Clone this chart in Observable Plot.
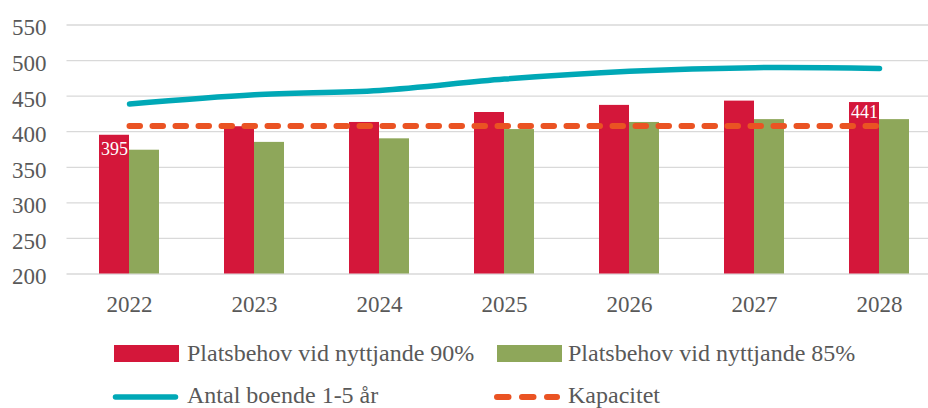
<!DOCTYPE html>
<html>
<head>
<meta charset="utf-8">
<script src="https://cdn.jsdelivr.net/npm/d3@7"></script>
<script src="https://cdn.jsdelivr.net/npm/@observablehq/plot@0.6"></script>
<style>
  body { margin: 0; background: #fff; }
  #chart svg { display: block; font-family: "Liberation Serif", "Times New Roman", Times, serif !important; }
  #chart svg text { font-family: "Liberation Serif", "Times New Roman", Times, serif !important; }
</style>
</head>
<body>
<div id="chart"></div>
<script>
// ---- data ----
const years = ["2022", "2023", "2024", "2025", "2026", "2027", "2028"];
const behov90 = [395, 407, 413, 427, 437, 443, 441];
const behov85 = [374, 385, 390, 403, 413, 417, 417];
const boende = [439, 452, 458, 474, 485, 490, 489];
const kapacitet = [408, 408, 408, 408, 408, 408, 408];
const yTicks = [200, 250, 300, 350, 400, 450, 500, 550];
const seriesNames = ["Platsbehov vid nyttjande 90%", "Platsbehov vid nyttjande 85%", "Antal boende 1-5 år", "Kapacitet"];
const labelFirst = "2022";
const labelLast = "2028";

const colors = { red: "#d4173a", green: "#8ea75a", teal: "#00a8b6", orange: "#ea5323", text: "#595959", grid: "#d9d9d9" };
const font = '"Liberation Serif", "Times New Roman", Times, serif';

const rows = years.map((y, i) => ({ year: y, v90: behov90[i], v85: behov85[i], boende: boende[i], kap: kapacitet[i] }));
const base = yTicks[0];

const plot = Plot.plot({
  width: 928,
  height: 330,
  marginLeft: 66.5,
  marginRight: -13.5,
  marginTop: 24.5,
  marginBottom: 56.5,
  style: `font-family: ${font}; background: white;`,
  x: { domain: years, paddingInner: 0.52, paddingOuter: 0.26 },
  y: { domain: [yTicks[0], yTicks[yTicks.length - 1]] },
  marks: [
    Plot.ruleY(yTicks, { stroke: colors.grid, strokeWidth: 1.3 }),
    Plot.barY(rows, { x: "year", y1: base, y2: "v90", fill: colors.red, insetRight: 30 }),
    Plot.barY(rows, { x: "year", y1: base, y2: "v85", fill: colors.green, insetLeft: 30 }),
    Plot.line(rows, { x: "year", y: "kap", stroke: colors.orange, strokeWidth: 6, strokeDasharray: "10.5,12.5", strokeLinecap: "round" }),
    Plot.line(rows, { x: "year", y: "boende", stroke: colors.teal, strokeWidth: 5.5, curve: "catmull-rom", strokeLinecap: "round" }),
    Plot.text(rows.filter(d => d.year === labelFirst), { x: "year", y: "v90", text: d => String(d.v90), dx: -15, dy: 14, fill: "white", fontSize: 18 }),
    Plot.text(rows.filter(d => d.year === labelLast), { x: "year", y: "v90", text: d => String(d.v90), dx: -15, dy: 9.5, fill: "white", fontSize: 18 }),
    Plot.axisY(yTicks, { tickSize: 0, tickPadding: 20.5, fontSize: 23, color: colors.text, dy: 3, label: null }),
    Plot.axisX({ tickSize: 0, tickPadding: 22, fontSize: 23, color: colors.text, label: null })
  ]
});
document.getElementById("chart").appendChild(plot);

// ---- legend below the plot ----
const leg = d3.create("svg")
  .attr("width", 928).attr("height", 78)
  .attr("font-family", font);

const items = [
  { kind: "rect", color: colors.red, x: 114, row: 0, label: seriesNames[0] },
  { kind: "rect", color: colors.green, x: 497, row: 0, label: seriesNames[1] },
  { kind: "line", color: colors.teal, x: 114, row: 1, label: seriesNames[2] },
  { kind: "dash", color: colors.orange, x: 497, row: 1, label: seriesNames[3] }
];
for (const it of items) {
  const g = leg.append("g");
  const rowY = it.row === 0 ? 15 : 67;
  if (it.kind === "rect") {
    g.append("rect").attr("x", it.x).attr("y", rowY).attr("width", 65).attr("height", 17).attr("fill", it.color);
  } else if (it.kind === "line") {
    g.append("line").attr("x1", it.x + 1.5).attr("x2", it.x + 61.5).attr("y1", rowY).attr("y2", rowY)
      .attr("stroke", it.color).attr("stroke-width", 5.5).attr("stroke-linecap", "round");
  } else {
    g.append("line").attr("x1", it.x).attr("x2", it.x + 60).attr("y1", rowY).attr("y2", rowY)
      .attr("stroke", it.color).attr("stroke-width", 6).attr("stroke-linecap", "round")
      .attr("stroke-dasharray", "11.5,13.5");
  }
  g.append("text")
    .attr("x", it.x + 73 - (it.x > 400 ? 2 : 0))
    .attr("y", it.row === 0 ? 31 : 73)
    .attr("font-size", 24)
    .attr("font-family", font)
    .attr("fill", colors.text)
    .text(it.label);
}
document.getElementById("chart").appendChild(leg.node());
</script>
</body>
</html>
